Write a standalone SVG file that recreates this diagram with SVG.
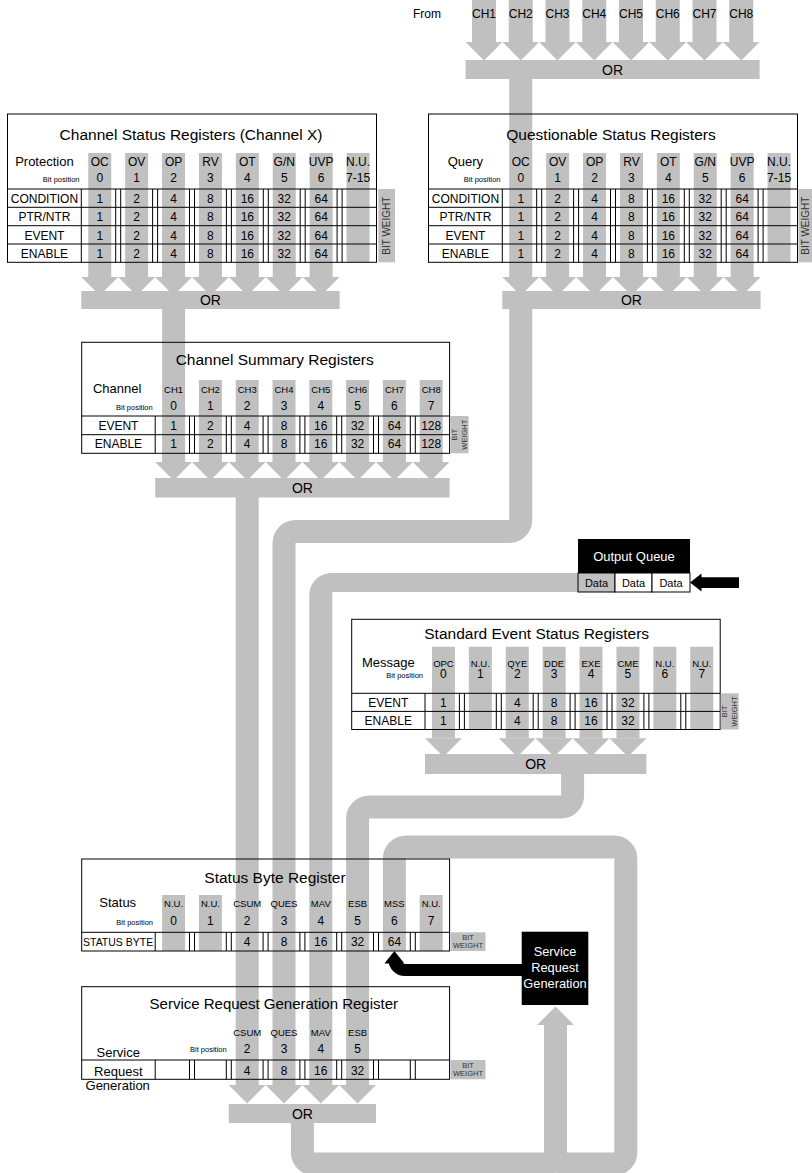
<svg xmlns="http://www.w3.org/2000/svg" width="812" height="1173" viewBox="0 0 812 1173">
<style>
text{font-family:"Liberation Sans",Arial,sans-serif;fill:#000}
.m{text-anchor:middle}
.e{text-anchor:end}
.t{font-size:15.5px}
.l{font-size:13px}
.h{font-size:12px}
.s{font-size:9.5px}
.bp{font-size:7.5px}
.or{font-size:14px;text-anchor:middle}
.bw{font-size:10px;fill:#333;text-anchor:middle}
.bw2{font-size:7.5px;fill:#333;text-anchor:middle}
.wt{fill:#fff;text-anchor:middle}
.g{fill:#c0c0c0}
.ln{fill:none;stroke:#000;stroke-width:1}
.pipe{fill:none;stroke:#c0c0c0;stroke-width:23}
</style>
<rect width="812" height="1173" fill="#fff"/>

<g id="connectors">
  <path class="g" d="M472 0h24v42h-24zM508.75 0h24v42h-24zM545.5 0h24v42h-24zM582.25 0h24v42h-24zM619 0h24v42h-24zM655.75 0h24v42h-24zM692.5 0h24v42h-24zM729.25 0h24v42h-24z"/>
  <path class="g" d="M465.6 42H502.4L484 60.4ZM502.4 42H539.1L520.75 60.4ZM539.1 42H575.9L557.5 60.4ZM575.9 42H612.6L594.25 60.4ZM612.6 42H649.4L631 60.4ZM649.4 42H686.1L667.75 60.4ZM686.1 42H722.9L704.5 60.4ZM722.9 42H759.6L741.25 60.4Z"/>
  <rect class="g" x="509.25" y="79" width="23" height="198"/>
  <path class="g" d="M502.3 277H539.2L520.75 295.5ZM539.2 277H576.1L557.65 295.5ZM576.1 277H613L594.55 295.5ZM613 277H649.9L631.45 295.5ZM649.9 277H686.8L668.35 295.5ZM686.8 277H723.7L705.25 295.5ZM723.7 277H760.6L742.15 295.5Z"/>
  <path class="g" d="M81.3 277H118.2L99.75 295.5ZM118.2 277H155.1L136.65 295.5ZM155.1 277H192L173.55 295.5ZM192 277H228.9L210.45 295.5ZM228.9 277H265.8L247.35 295.5ZM265.8 277H302.7L284.25 295.5ZM302.7 277H339.6L321.15 295.5Z"/>
  <rect class="g" x="162.1" y="309" width="23" height="153"/>
  <path class="g" d="M155.2 462H192L173.6 480.4ZM192 462H228.8L210.4 480.4ZM228.8 462H265.6L247.2 480.4ZM265.6 462H302.4L284 480.4ZM302.4 462H339.2L320.8 480.4ZM339.2 462H376L357.6 480.4ZM376 462H412.8L394.4 480.4ZM412.8 462H449.6L431.2 480.4Z"/>
  <rect class="g" x="235.7" y="497" width="23" height="588"/>
  <path class="pipe" d="M520.75 305V520A11.5 11.5 0 0 1 509.25 531.5H295.5A11.5 11.5 0 0 0 284 543V1086"/>
  <path class="g" d="M578 573H331.3A22 22 0 0 0 309.3 595V1085H332.3V592H578Z"/>
  <path class="g" d="M425 738.3H461.9L443.45 756.8ZM498.8 738.3H535.7L517.25 756.8ZM535.7 738.3H572.6L554.15 756.8ZM572.6 738.3H609.5L591.05 756.8ZM609.5 738.3H646.4L627.95 756.8Z"/>
  <path class="pipe" d="M572.6 770V795.5A11.5 11.5 0 0 1 561.1 807H369.1A11.5 11.5 0 0 0 357.6 818.5V1086"/>
  <path class="g" d="M228.8 1085H265.6L247.2 1103.4ZM265.6 1085H302.4L284 1103.4ZM302.4 1085H339.2L320.8 1103.4ZM339.2 1085H376L357.6 1103.4Z"/>
  <path class="pipe" d="M302.4 1120V1152.5A11.5 11.5 0 0 0 313.9 1164H544A11.5 11.5 0 0 0 555.5 1152.5V1024"/>
  <path class="g" d="M537 1025H574L555.5 1006.5Z"/>
  <path class="pipe" d="M555.5 1152.5A11.5 11.5 0 0 0 567 1164H614.3A11.5 11.5 0 0 0 625.8 1152.5V858.5A11.5 11.5 0 0 0 614.3 847H405.9A11.5 11.5 0 0 0 394.4 858.5V951"/>
  <path d="M523 970H405A10.6 10.6 0 0 1 394.4 959.4V962" fill="none" stroke="#000" stroke-width="12"/>
  <path d="M384.4 963.5H404.4L394.4 951Z" fill="#000"/>
  <path d="M690 582.5L701.5 573.5V577.3H739V588H701.5V591.5Z" fill="#000"/>
</g>

<g id="or-from">
  <rect class="g" x="465.6" y="60" width="294" height="19"/>
  <text class="or" x="612.6" y="74.5">OR</text>
  <text class="h" x="413" y="18">From</text>
  <text class="h m" x="484" y="18">CH1</text>
  <text class="h m" x="520.75" y="18">CH2</text>
  <text class="h m" x="557.5" y="18">CH3</text>
  <text class="h m" x="594.25" y="18">CH4</text>
  <text class="h m" x="631" y="18">CH5</text>
  <text class="h m" x="667.75" y="18">CH6</text>
  <text class="h m" x="704.5" y="18">CH7</text>
  <text class="h m" x="741.25" y="18">CH8</text>
</g>

<g id="channel-status">
  <path class="g" d="M88.25 153h23v124h-23zM125.15 153h23v124h-23zM162.05 153h23v124h-23zM198.95 153h23v124h-23zM235.85 153h23v124h-23zM272.75 153h23v124h-23zM309.65 153h23v124h-23zM346.55 153h23v109.3h-23z"/>
  <rect class="ln" x="7.5" y="114" width="369" height="148.3"/>
  <path class="ln" d="M7.5 189H376.5M7.5 207.3H376.5M7.5 225.7H376.5M7.5 244H376.5M81.3 189V262.3M115.7 189V262.3M120.7 189V262.3M152.6 189V262.3M157.6 189V262.3M189.5 189V262.3M194.5 189V262.3M226.4 189V262.3M231.4 189V262.3M263.3 189V262.3M268.3 189V262.3M300.2 189V262.3M305.2 189V262.3M337.1 189V262.3M342.1 189V262.3"/>
  <text class="t m" x="191" y="139.5">Channel Status Registers (Channel X)</text>
  <text class="l m" x="44.4" y="166">Protection</text>
  <text class="bp e" x="79.5" y="181.5">Bit position</text>
  <g class="h">
  <text class="m" x="99.75" y="166">OC</text><text class="m" x="136.65" y="166">OV</text><text class="m" x="173.55" y="166">OP</text><text class="m" x="210.45" y="166">RV</text><text class="m" x="247.35" y="166">OT</text><text class="m" x="284.25" y="166">G/N</text><text class="m" x="321.15" y="166">UVP</text><text class="m" x="358.05" y="166">N.U.</text>
  <text class="m" x="99.75" y="181.5">0</text><text class="m" x="136.65" y="181.5">1</text><text class="m" x="173.55" y="181.5">2</text><text class="m" x="210.45" y="181.5">3</text><text class="m" x="247.35" y="181.5">4</text><text class="m" x="284.25" y="181.5">5</text><text class="m" x="321.15" y="181.5">6</text><text class="m" x="358.05" y="181.5">7-15</text>
  <text class="m" x="44.4" y="202.8">CONDITION</text><text class="m" x="44.4" y="221.1">PTR/NTR</text><text class="m" x="44.4" y="239.5">EVENT</text><text class="m" x="44.4" y="257.8">ENABLE</text>
  <text class="m" x="99.75" y="202.8">1</text><text class="m" x="136.65" y="202.8">2</text><text class="m" x="173.55" y="202.8">4</text><text class="m" x="210.45" y="202.8">8</text><text class="m" x="247.35" y="202.8">16</text><text class="m" x="284.25" y="202.8">32</text><text class="m" x="321.15" y="202.8">64</text>
  <text class="m" x="99.75" y="221.1">1</text><text class="m" x="136.65" y="221.1">2</text><text class="m" x="173.55" y="221.1">4</text><text class="m" x="210.45" y="221.1">8</text><text class="m" x="247.35" y="221.1">16</text><text class="m" x="284.25" y="221.1">32</text><text class="m" x="321.15" y="221.1">64</text>
  <text class="m" x="99.75" y="239.5">1</text><text class="m" x="136.65" y="239.5">2</text><text class="m" x="173.55" y="239.5">4</text><text class="m" x="210.45" y="239.5">8</text><text class="m" x="247.35" y="239.5">16</text><text class="m" x="284.25" y="239.5">32</text><text class="m" x="321.15" y="239.5">64</text>
  <text class="m" x="99.75" y="257.8">1</text><text class="m" x="136.65" y="257.8">2</text><text class="m" x="173.55" y="257.8">4</text><text class="m" x="210.45" y="257.8">8</text><text class="m" x="247.35" y="257.8">16</text><text class="m" x="284.25" y="257.8">32</text><text class="m" x="321.15" y="257.8">64</text>
  </g>
  <rect class="g" x="378.3" y="189" width="16.7" height="73.3"/>
  <text class="bw" transform="translate(390.3 225.7) rotate(-90)">BIT WEIGHT</text>
  <rect class="g" x="81.3" y="291" width="258.3" height="18"/>
  <text class="or" x="210.45" y="305">OR</text>
</g>

<g id="questionable-status">
  <path class="g" d="M546.15 153h23v124h-23zM583.05 153h23v124h-23zM619.95 153h23v124h-23zM656.85 153h23v124h-23zM693.75 153h23v124h-23zM730.65 153h23v124h-23zM767.55 153h23v109.3h-23z"/>
  <rect class="ln" x="428.5" y="114" width="369" height="148.3"/>
  <path class="ln" d="M428.5 189H797.5M428.5 207.3H797.5M428.5 225.7H797.5M428.5 244H797.5M502.3 189V262.3M536.7 189V262.3M541.7 189V262.3M573.6 189V262.3M578.6 189V262.3M610.5 189V262.3M615.5 189V262.3M647.4 189V262.3M652.4 189V262.3M684.3 189V262.3M689.3 189V262.3M721.2 189V262.3M726.2 189V262.3M758.1 189V262.3M763.1 189V262.3"/>
  <text class="t m" x="611" y="139.5">Questionable Status Registers</text>
  <text class="l m" x="465.4" y="166">Query</text>
  <text class="bp e" x="500.5" y="181.5">Bit position</text>
  <g class="h">
  <text class="m" x="520.75" y="166">OC</text><text class="m" x="557.65" y="166">OV</text><text class="m" x="594.55" y="166">OP</text><text class="m" x="631.45" y="166">RV</text><text class="m" x="668.35" y="166">OT</text><text class="m" x="705.25" y="166">G/N</text><text class="m" x="742.15" y="166">UVP</text><text class="m" x="779.05" y="166">N.U.</text>
  <text class="m" x="520.75" y="181.5">0</text><text class="m" x="557.65" y="181.5">1</text><text class="m" x="594.55" y="181.5">2</text><text class="m" x="631.45" y="181.5">3</text><text class="m" x="668.35" y="181.5">4</text><text class="m" x="705.25" y="181.5">5</text><text class="m" x="742.15" y="181.5">6</text><text class="m" x="779.05" y="181.5">7-15</text>
  <text class="m" x="465.4" y="202.8">CONDITION</text><text class="m" x="465.4" y="221.1">PTR/NTR</text><text class="m" x="465.4" y="239.5">EVENT</text><text class="m" x="465.4" y="257.8">ENABLE</text>
  <text class="m" x="520.75" y="202.8">1</text><text class="m" x="557.65" y="202.8">2</text><text class="m" x="594.55" y="202.8">4</text><text class="m" x="631.45" y="202.8">8</text><text class="m" x="668.35" y="202.8">16</text><text class="m" x="705.25" y="202.8">32</text><text class="m" x="742.15" y="202.8">64</text>
  <text class="m" x="520.75" y="221.1">1</text><text class="m" x="557.65" y="221.1">2</text><text class="m" x="594.55" y="221.1">4</text><text class="m" x="631.45" y="221.1">8</text><text class="m" x="668.35" y="221.1">16</text><text class="m" x="705.25" y="221.1">32</text><text class="m" x="742.15" y="221.1">64</text>
  <text class="m" x="520.75" y="239.5">1</text><text class="m" x="557.65" y="239.5">2</text><text class="m" x="594.55" y="239.5">4</text><text class="m" x="631.45" y="239.5">8</text><text class="m" x="668.35" y="239.5">16</text><text class="m" x="705.25" y="239.5">32</text><text class="m" x="742.15" y="239.5">64</text>
  <text class="m" x="520.75" y="257.8">1</text><text class="m" x="557.65" y="257.8">2</text><text class="m" x="594.55" y="257.8">4</text><text class="m" x="631.45" y="257.8">8</text><text class="m" x="668.35" y="257.8">16</text><text class="m" x="705.25" y="257.8">32</text><text class="m" x="742.15" y="257.8">64</text>
  </g>
  <rect class="g" x="798.5" y="189" width="16.7" height="73.3"/>
  <text class="bw" transform="translate(808.8 225.7) rotate(-90)">BIT WEIGHT</text>
  <rect class="g" x="502.3" y="291" width="258.3" height="18"/>
  <text class="or" x="631.45" y="305">OR</text>
</g>

<g id="channel-summary">
  <path class="g" d="M198.9 380h23v82h-23zM235.7 380h23v82h-23zM272.5 380h23v82h-23zM309.3 380h23v82h-23zM346.1 380h23v82h-23zM382.9 380h23v82h-23zM419.7 380h23v82h-23z"/>
  <rect class="ln" x="81.7" y="342.3" width="367.9" height="111"/>
  <path class="ln" d="M81.7 416H449.6M81.7 434.7H449.6M155.2 416V453.3M189.5 416V453.3M194.5 416V453.3M226.3 416V453.3M231.3 416V453.3M263.1 416V453.3M268.1 416V453.3M299.9 416V453.3M304.9 416V453.3M336.7 416V453.3M341.7 416V453.3M373.5 416V453.3M378.5 416V453.3M410.3 416V453.3M415.3 416V453.3"/>
  <text class="t m" x="274.7" y="365">Channel Summary Registers</text>
  <text class="l m" x="117.2" y="393">Channel</text>
  <text class="bp e" x="152.7" y="410">Bit position</text>
  <g class="s">
  <text class="m" x="173.6" y="392.5">CH1</text><text class="m" x="210.4" y="392.5">CH2</text><text class="m" x="247.2" y="392.5">CH3</text><text class="m" x="284" y="392.5">CH4</text><text class="m" x="320.8" y="392.5">CH5</text><text class="m" x="357.6" y="392.5">CH6</text><text class="m" x="394.4" y="392.5">CH7</text><text class="m" x="431.2" y="392.5">CH8</text>
  </g>
  <g class="h">
  <text class="m" x="173.6" y="410">0</text><text class="m" x="210.4" y="410">1</text><text class="m" x="247.2" y="410">2</text><text class="m" x="284" y="410">3</text><text class="m" x="320.8" y="410">4</text><text class="m" x="357.6" y="410">5</text><text class="m" x="394.4" y="410">6</text><text class="m" x="431.2" y="410">7</text>
  <text class="m" x="118.4" y="429.8">EVENT</text><text class="m" x="118.4" y="448.4">ENABLE</text>
  <text class="m" x="173.6" y="429.8">1</text><text class="m" x="210.4" y="429.8">2</text><text class="m" x="247.2" y="429.8">4</text><text class="m" x="284" y="429.8">8</text><text class="m" x="320.8" y="429.8">16</text><text class="m" x="357.6" y="429.8">32</text><text class="m" x="394.4" y="429.8">64</text><text class="m" x="431.2" y="429.8">128</text>
  <text class="m" x="173.6" y="448.4">1</text><text class="m" x="210.4" y="448.4">2</text><text class="m" x="247.2" y="448.4">4</text><text class="m" x="284" y="448.4">8</text><text class="m" x="320.8" y="448.4">16</text><text class="m" x="357.6" y="448.4">32</text><text class="m" x="394.4" y="448.4">64</text><text class="m" x="431.2" y="448.4">128</text>
  </g>
  <rect class="g" x="450.3" y="416" width="18.3" height="37.3"/>
  <text class="bw2" transform="translate(457 434.7) rotate(-90)">BIT</text>
  <text class="bw2" transform="translate(466.7 434.7) rotate(-90)">WEIGHT</text>
  <rect class="g" x="155.2" y="478" width="294.4" height="19.5"/>
  <text class="or" x="302.4" y="493">OR</text>
</g>

<g id="output-queue">
  <rect x="578" y="539" width="112" height="34" fill="#000"/>
  <text class="wt" x="634" y="561" font-size="13">Output Queue</text>
  <rect x="578" y="573" width="37" height="19" fill="#c0c0c0" stroke="#000"/>
  <rect x="615" y="573" width="37" height="19" fill="#fff" stroke="#000"/>
  <rect x="652" y="573" width="38" height="19" fill="#fff" stroke="#000"/>
  <text class="m" x="596.5" y="586.5" font-size="11">Data</text>
  <text class="m" x="633.5" y="586.5" font-size="11">Data</text>
  <text class="m" x="671" y="586.5" font-size="11">Data</text>
</g>

<g id="standard-event">
  <path class="g" d="M431.95 646.7h23v91.6h-23zM468.85 646.7h23v82.8h-23zM505.75 646.7h23v91.6h-23zM542.65 646.7h23v91.6h-23zM579.55 646.7h23v91.6h-23zM616.45 646.7h23v91.6h-23zM653.35 646.7h23v82.8h-23zM690.25 646.7h23v82.8h-23z"/>
  <rect class="ln" x="351.7" y="619.3" width="368.5" height="110.2"/>
  <path class="ln" d="M351.7 693.3H720.2M351.7 711.4H720.2M425 693.3V729.5M459.4 693.3V729.5M464.4 693.3V729.5M496.3 693.3V729.5M501.3 693.3V729.5M533.2 693.3V729.5M538.2 693.3V729.5M570.1 693.3V729.5M575.1 693.3V729.5M607 693.3V729.5M612 693.3V729.5M643.9 693.3V729.5M648.9 693.3V729.5M680.8 693.3V729.5M685.8 693.3V729.5"/>
  <text class="t m" x="536.7" y="639.3">Standard Event Status Registers</text>
  <text class="l m" x="388.3" y="666.7">Message</text>
  <text class="bp e" x="423" y="678.3">Bit position</text>
  <g class="s">
  <text class="m" x="443.45" y="666.5">OPC</text><text class="m" x="480.35" y="666.5">N.U.</text><text class="m" x="517.25" y="666.5">QYE</text><text class="m" x="554.15" y="666.5">DDE</text><text class="m" x="591.05" y="666.5">EXE</text><text class="m" x="627.95" y="666.5">CME</text><text class="m" x="664.85" y="666.5">N.U.</text><text class="m" x="701.75" y="666.5">N.U.</text>
  </g>
  <g class="h">
  <text class="m" x="443.45" y="678.3">0</text><text class="m" x="480.35" y="678.3">1</text><text class="m" x="517.25" y="678.3">2</text><text class="m" x="554.15" y="678.3">3</text><text class="m" x="591.05" y="678.3">4</text><text class="m" x="627.95" y="678.3">5</text><text class="m" x="664.85" y="678.3">6</text><text class="m" x="701.75" y="678.3">7</text>
  <text class="m" x="388.3" y="707">EVENT</text><text class="m" x="388.3" y="725.3">ENABLE</text>
  <text class="m" x="443.45" y="707">1</text><text class="m" x="517.25" y="707">4</text><text class="m" x="554.15" y="707">8</text><text class="m" x="591.05" y="707">16</text><text class="m" x="627.95" y="707">32</text>
  <text class="m" x="443.45" y="725.3">1</text><text class="m" x="517.25" y="725.3">4</text><text class="m" x="554.15" y="725.3">8</text><text class="m" x="591.05" y="725.3">16</text><text class="m" x="627.95" y="725.3">32</text>
  </g>
  <rect class="g" x="720.7" y="693.3" width="18" height="36.2"/>
  <text class="bw2" transform="translate(727.2 711.4) rotate(-90)">BIT</text>
  <text class="bw2" transform="translate(736.6 711.4) rotate(-90)">WEIGHT</text>
  <rect class="g" x="425" y="754" width="221.4" height="20"/>
  <text class="or" x="535.7" y="769">OR</text>
</g>

<g id="status-byte">
  <path class="g" d="M162.1 895h23v56h-23zM198.9 895h23v56h-23zM419.7 895h23v56h-23z"/>
  <rect class="ln" x="81.7" y="859" width="367.9" height="92"/>
  <path class="ln" d="M81.7 932.3H449.6M155.2 932.3V951M189.5 932.3V951M194.5 932.3V951M226.3 932.3V951M231.3 932.3V951M263.1 932.3V951M268.1 932.3V951M299.9 932.3V951M304.9 932.3V951M336.7 932.3V951M341.7 932.3V951M373.5 932.3V951M378.5 932.3V951M410.3 932.3V951M415.3 932.3V951"/>
  <text class="t m" x="275" y="882.7">Status Byte Register</text>
  <text class="l m" x="117.7" y="907.3">Status</text>
  <text class="bp e" x="153" y="925">Bit position</text>
  <g class="s">
  <text class="m" x="173.6" y="907">N.U.</text><text class="m" x="210.4" y="907">N.U.</text><text class="m" x="247.2" y="907">CSUM</text><text class="m" x="284" y="907">QUES</text><text class="m" x="320.8" y="907">MAV</text><text class="m" x="357.6" y="907">ESB</text><text class="m" x="394.4" y="907">MSS</text><text class="m" x="431.2" y="907">N.U.</text>
  </g>
  <g class="h">
  <text class="m" x="173.6" y="925">0</text><text class="m" x="210.4" y="925">1</text><text class="m" x="247.2" y="925">2</text><text class="m" x="284" y="925">3</text><text class="m" x="320.8" y="925">4</text><text class="m" x="357.6" y="925">5</text><text class="m" x="394.4" y="925">6</text><text class="m" x="431.2" y="925">7</text>
  <text class="m" x="247.2" y="946">4</text><text class="m" x="284" y="946">8</text><text class="m" x="320.8" y="946">16</text><text class="m" x="357.6" y="946">32</text><text class="m" x="394.4" y="946">64</text>
  </g>
  <text x="83" y="946" font-size="10.5">STATUS BYTE</text>
  <rect class="g" x="450.5" y="932.3" width="35" height="18.7"/>
  <text class="bw2" x="468" y="940.3" font-size="7">BIT</text>
  <text class="bw2" x="468" y="948.3" font-size="7">WEIGHT</text>
</g>

<g id="service-request-register">
  <rect class="ln" x="81.7" y="986.7" width="367.9" height="92.6"/>
  <path class="ln" d="M81.7 1060H449.6M155.2 1060V1079.3M189.5 1060V1079.3M194.5 1060V1079.3M226.3 1060V1079.3M231.3 1060V1079.3M263.1 1060V1079.3M268.1 1060V1079.3M299.9 1060V1079.3M304.9 1060V1079.3M336.7 1060V1079.3M341.7 1060V1079.3M373.5 1060V1079.3M378.5 1060V1079.3M410.3 1060V1079.3M415.3 1060V1079.3"/>
  <text class="m" x="273.8" y="1009.3" font-size="15">Service Request Generation Register</text>
  <text class="l m" x="118.3" y="1056.5">Service</text>
  <text class="l m" x="118.3" y="1075.5">Request</text>
  <text class="l m" x="117.7" y="1090">Generation</text>
  <text class="bp e" x="226.7" y="1052">Bit position</text>
  <g class="s">
  <text class="m" x="247.2" y="1036">CSUM</text><text class="m" x="284" y="1036">QUES</text><text class="m" x="320.8" y="1036">MAV</text><text class="m" x="357.6" y="1036">ESB</text>
  </g>
  <g class="h">
  <text class="m" x="247.2" y="1053">2</text><text class="m" x="284" y="1053">3</text><text class="m" x="320.8" y="1053">4</text><text class="m" x="357.6" y="1053">5</text>
  <text class="m" x="247.2" y="1074.5">4</text><text class="m" x="284" y="1074.5">8</text><text class="m" x="320.8" y="1074.5">16</text><text class="m" x="357.6" y="1074.5">32</text>
  </g>
  <rect class="g" x="450.5" y="1060" width="35" height="19.3"/>
  <text class="bw2" x="468" y="1068.3" font-size="7">BIT</text>
  <text class="bw2" x="468" y="1076.3" font-size="7">WEIGHT</text>
  <rect class="g" x="228.8" y="1104" width="147.2" height="19"/>
  <text class="or" x="302.4" y="1119">OR</text>
</g>

<g id="service-request-generation">
  <rect x="521.7" y="931.7" width="66.6" height="73.3" fill="#000"/>
  <text class="wt" x="555" y="956" font-size="12.8">Service</text>
  <text class="wt" x="555" y="971.7" font-size="12.8">Request</text>
  <text class="wt" x="555" y="988.3" font-size="12.8">Generation</text>
</g>
</svg>
